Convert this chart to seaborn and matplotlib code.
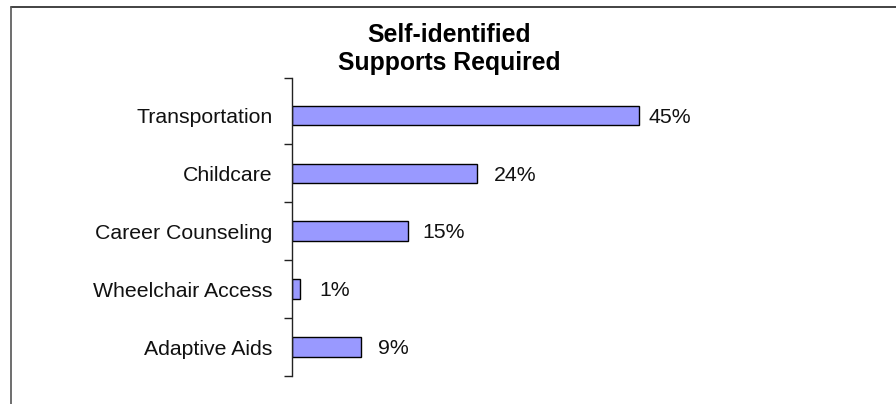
import matplotlib
matplotlib.use("Agg")
import matplotlib.pyplot as plt
from matplotlib.lines import Line2D
import seaborn as sns
import pandas as pd

categories = ["Transportation", "Childcare", "Career Counseling", "Wheelchair Access", "Adaptive Aids"]
values = [45, 24, 15, 1, 9]
value_labels = ["45%", "24%", "15%", "1%", "9%"]
title_lines = ["Self-identified", "Supports Required"]

# gap (in points) between each bar end and its value label, as in the reference
label_gaps = [7.2, 12.2, 10.8, 14.4, 12.2]

sns.set_theme(style="white")
plt.rcParams["font.family"] = ["Liberation Sans", "DejaVu Sans"]

W, H = 896, 404
fig = plt.figure(figsize=(W / 100, H / 100), dpi=100)
fig.patch.set_facecolor("white")

ax_left, ax_right = 292, 754.6
ax_top, ax_bottom = 77.9, 376
ax = fig.add_axes([ax_left / W, 1 - ax_bottom / H, (ax_right - ax_left) / W, (ax_bottom - ax_top) / H])

df = pd.DataFrame({"category": categories, "value": values})
sns.barplot(data=df, x="value", y="category", orient="h", color="#9999FF",
            saturation=1, edgecolor="black", linewidth=1.0, width=0.34, ax=ax)

ax.set_xlim(0, 60)
ax.set_ylim(4.5, -0.65)
ax.set_xlabel("")
ax.set_ylabel("")
ax.set_xticks([])
ax.set_facecolor("white")

for s in ["top", "right", "bottom"]:
    ax.spines[s].set_visible(False)
ax.spines["left"].set_color("#222222")
ax.spines["left"].set_linewidth(1.0)

ax.set_yticks(range(len(categories)))
ax.set_yticklabels(categories, fontsize=15.3, color="#111111")
ax.tick_params(axis="y", which="major", length=0, pad=14)
ax.set_yticks([-0.65, 0.5, 1.5, 2.5, 3.5, 4.5], minor=True)
ax.tick_params(axis="y", which="minor", length=5.5, width=1.0, color="#222222", left=True, direction="out")

for i, (v, lab) in enumerate(zip(values, value_labels)):
    ax.annotate(lab, xy=(v, i), xytext=(label_gaps[i], -1.2), textcoords="offset points",
                ha="left", va="center", fontsize=15.3, color="#111111")

fig.text(449 / W, 1 - 42 / H, title_lines[0], ha="center", va="baseline",
         fontsize=17.8, fontweight="bold", color="black")
fig.text(449 / W, 1 - 70 / H, title_lines[1], ha="center", va="baseline",
         fontsize=17.8, fontweight="bold", color="black")

fig.add_artist(Line2D([11 / W, 1.0], [1 - 7 / H, 1 - 7 / H], transform=fig.transFigure,
                      color="#222222", linewidth=1.2))
fig.add_artist(Line2D([11 / W, 11 / W], [1 - 7 / H, 0.0], transform=fig.transFigure,
                      color="#555555", linewidth=1.2))

fig.savefig("out.png", dpi=100, facecolor="white")
